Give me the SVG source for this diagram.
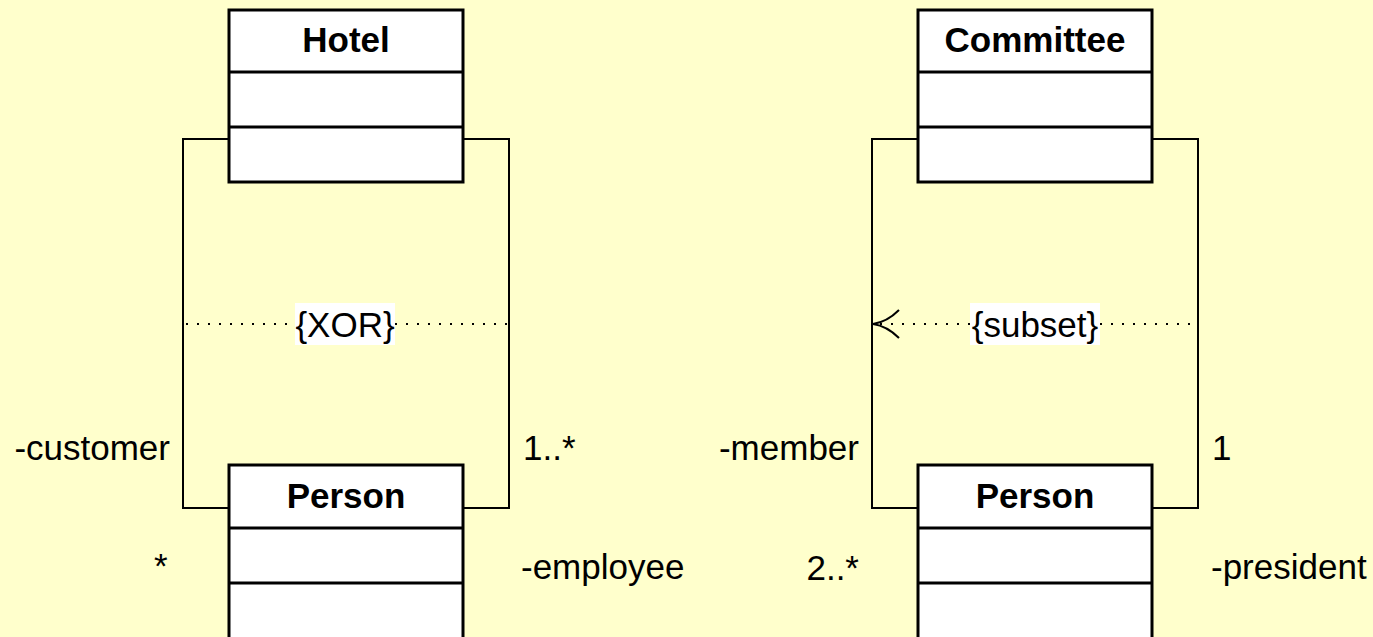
<svg xmlns="http://www.w3.org/2000/svg" width="1373" height="637" viewBox="0 0 1373 637">
  <style>
    .box { fill: #ffffff; stroke: #000000; stroke-width: 3; }
    .div { stroke: #000000; stroke-width: 3; }
    .title { font-family: "Liberation Sans", Arial, sans-serif; font-size: 35px; font-weight: bold; text-anchor: middle; fill: #000000; }
    .lbl { font-family: "Liberation Sans", Arial, sans-serif; font-size: 35px; fill: #000000; }
    .end { text-anchor: end; }
    .assoc { fill: none; stroke: #000000; stroke-width: 2; }
    .constraint { fill: none; stroke: #000000; stroke-width: 2; stroke-dasharray: 2 9; }
    .tag { fill: #ffffff; }
  </style>
  <rect width="1373" height="637" fill="#ffffcc"/>

  <!-- associations and constraints -->
  <g id="connectors">
    <polyline class="assoc" points="229,139 183,139 183,508 229,508"/>
    <polyline class="assoc" points="463,139 509,139 509,508 463,508"/>
    <line class="constraint" x1="186" y1="324" x2="507" y2="324"/>
    <rect class="tag" x="295" y="303" width="100" height="42"/>
    <text class="lbl" x="345" y="337" text-anchor="middle">{XOR}</text>

    <polyline class="assoc" points="918,139 872,139 872,508 918,508"/>
    <polyline class="assoc" points="1152,139 1198,139 1198,508 1152,508"/>
    <line class="constraint" x1="880" y1="324" x2="1196" y2="324"/>
    <path class="assoc" stroke-width="2.5" d="M899,310 Q887,322 873,324 Q887,326 899,338"/>
    <rect class="tag" x="970" y="303" width="130" height="42"/>
    <text class="lbl" x="1035" y="337" text-anchor="middle">{subset}</text>
  </g>

  <!-- role names and multiplicities -->
  <g id="labels">
    <text class="lbl end" x="170" y="460">-customer</text>
    <text class="lbl" x="154" y="578">*</text>
    <text class="lbl" x="523" y="460">1..*</text>
    <text class="lbl" x="521" y="579">-employee</text>
    <text class="lbl end" x="859" y="460">-member</text>
    <text class="lbl end" x="859" y="580">2..*</text>
    <text class="lbl" x="1212" y="460">1</text>
    <text class="lbl" x="1211" y="579">-president</text>
  </g>

  <g id="hotel">
    <rect class="box" x="229" y="10" width="234" height="172"/>
    <line class="div" x1="229" y1="72" x2="463" y2="72"/>
    <line class="div" x1="229" y1="127" x2="463" y2="127"/>
    <text class="title" x="346" y="52">Hotel</text>
  </g>

  <g id="person-left">
    <rect class="box" x="229" y="465" width="234" height="180"/>
    <line class="div" x1="229" y1="528" x2="463" y2="528"/>
    <line class="div" x1="229" y1="583" x2="463" y2="583"/>
    <text class="title" x="346" y="508">Person</text>
  </g>

  <g id="committee">
    <rect class="box" x="918" y="10" width="234" height="172"/>
    <line class="div" x1="918" y1="72" x2="1152" y2="72"/>
    <line class="div" x1="918" y1="127" x2="1152" y2="127"/>
    <text class="title" x="1035" y="52">Committee</text>
  </g>

  <g id="person-right">
    <rect class="box" x="918" y="465" width="234" height="180"/>
    <line class="div" x1="918" y1="528" x2="1152" y2="528"/>
    <line class="div" x1="918" y1="583" x2="1152" y2="583"/>
    <text class="title" x="1035" y="508">Person</text>
  </g>
</svg>
